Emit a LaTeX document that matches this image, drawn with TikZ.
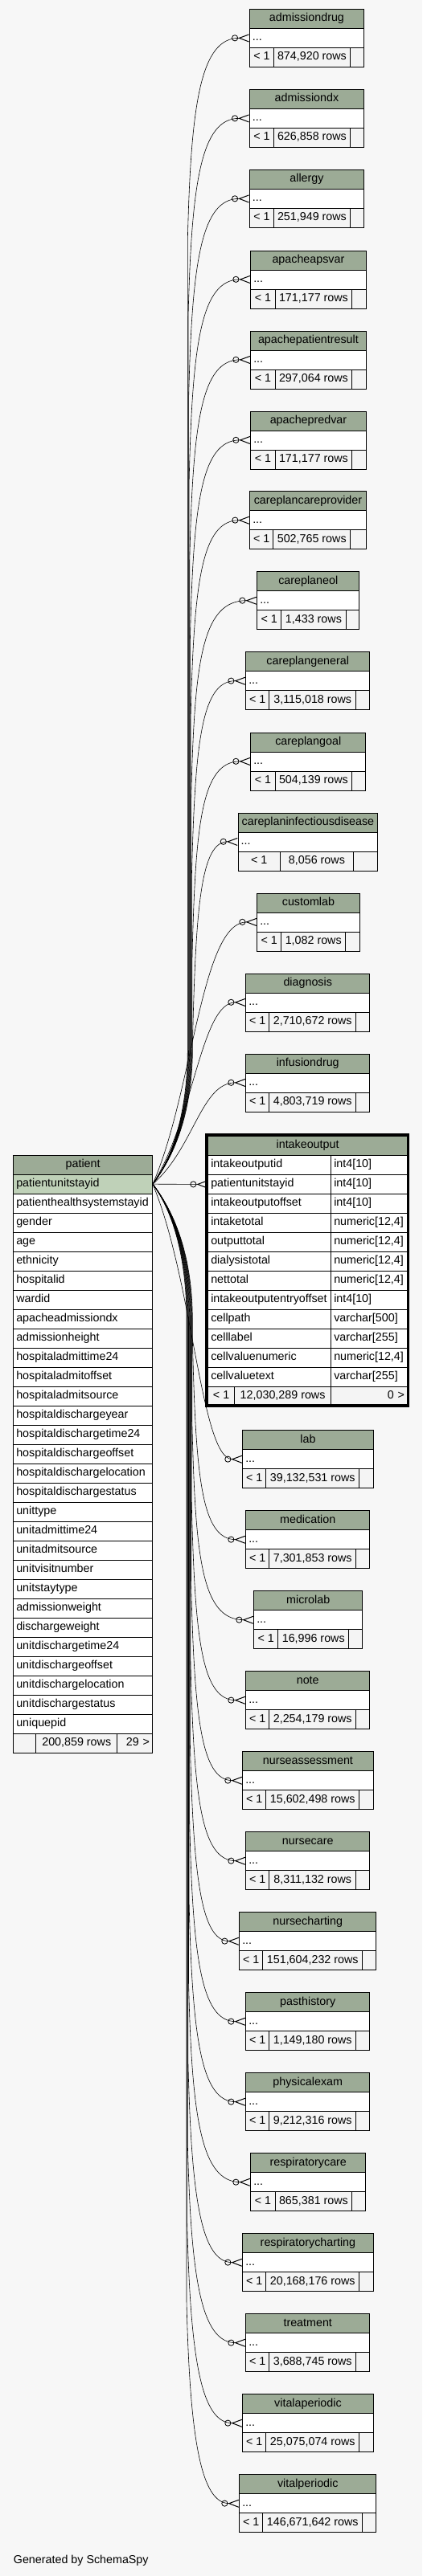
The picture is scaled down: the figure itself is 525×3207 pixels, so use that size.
\documentclass[tikz,border=0pt]{standalone}
\usepackage{fontspec}
\setmainfont{Liberation Sans}
\usetikzlibrary{arrows.meta}

\definecolor{paper}{HTML}{F7F7F7}
\definecolor{hdrgreen}{HTML}{9CAB96}
\definecolor{pkgreen}{HTML}{BFD1B8}
\definecolor{footgray}{HTML}{F4F4F4}

\begin{document}
\begin{tikzpicture}[x=1pt, y=-1pt,
  cell/.style={draw, line width=0.9pt, anchor=north west, inner sep=0pt,
               minimum height=24pt, text height=10pt, text depth=3pt,
               font=\fontsize{14.3}{17}\selectfont},
  hdr/.style={cell, fill=hdrgreen},
  lcell/.style={cell, fill=white, inner xsep=3.5pt, align=left},
  fcell/.style={cell, fill=footgray},
  rcell/.style={cell, fill=footgray, inner xsep=3.5pt, align=right},
  fk/.style={line width=0.6pt,
             -{Circle[open, length=8pt, width=8pt, line width=0.8pt]
               Straight Barb[reversed, length=12pt, width=9pt, line width=1pt]}},
  note/.style={font=\fontsize{14.3}{17}\selectfont, anchor=base west, inner sep=0pt},
]

% === Canvas ===
\fill[paper] (0,0) rectangle (525,3207);
\useasboundingbox (0,0) rectangle (525,3207);

% === Parent table ===
\node[hdr, minimum width=172.7pt] (patient) at (16.3,1437.7) {patient};
\node[lcell, fill=pkgreen, text width=165.7pt] (pk) at (16.3,1461.7) {patientunitstayid};
\foreach \col [count=\k from 2] in {patienthealthsystemstayid, gender, age, ethnicity,
    hospitalid, wardid, apacheadmissiondx, admissionheight, hospitaladmittime24,
    hospitaladmitoffset, hospitaladmitsource, hospitaldischargeyear,
    hospitaldischargetime24, hospitaldischargeoffset, hospitaldischargelocation,
    hospitaldischargestatus, unittype, unitadmittime24, unitadmitsource,
    unitvisitnumber, unitstaytype, admissionweight, dischargeweight,
    unitdischargetime24, unitdischargeoffset, unitdischargelocation,
    unitdischargestatus, uniquepid}{
  \pgfmathsetmacro\yr{1437.7+24*\k}
  \node[lcell, text width=165.7pt] (pt-\col) at (16.3,\yr) {\col};
}
\node[fcell, minimum width=28pt] (pt-f1) at (16.3,2157.7) {};
\node[fcell, minimum width=101pt] (pt-f2) at (44.3,2157.7) {200,859 rows};
\node[rcell, text width=36.7pt] (pt-f3) at (145.3,2157.7) {29 >};

% === Focus table ===
\node[hdr, minimum width=247.7pt] (intakeoutput) at (258.3,1414) {intakeoutput};
\foreach \col/\typ [count=\k] in {intakeoutputid/{int4[10]}, patientunitstayid/{int4[10]},
    intakeoutputoffset/{int4[10]}, intaketotal/{numeric[12,4]},
    outputtotal/{numeric[12,4]}, dialysistotal/{numeric[12,4]},
    nettotal/{numeric[12,4]}, intakeoutputentryoffset/{int4[10]},
    cellpath/{varchar[500]}, celllabel/{varchar[255]},
    cellvaluenumeric/{numeric[12,4]}, cellvaluetext/{varchar[255]}}{
  \pgfmathsetmacro\yr{1414+24*\k}
  \node[lcell, text width=146pt] (io-\col) at (258.3,\yr) {\col};
  \node[lcell, text width=87.7pt] (io-\col-t) at (411.3,\yr) {\typ};
}
\node[fcell, minimum width=32.7pt] (io-f1) at (258.3,1726) {< 1};
\node[fcell, minimum width=120.3pt] (io-f2) at (291,1726) {12,030,289 rows};
\node[rcell, text width=87.7pt] (io-f3) at (411.3,1726) {0 >};
\draw[line width=3.4pt] (256.2,1412.2) rectangle (507.2,1750);

\draw[fk] (pk.east) -- (io-patientunitstayid.west);

% === Child tables and links ===
\foreach \tname/\ty/\xl/\xr/\xa/\xb/\nrows in {
    admissiondrug/11/310/452/340/435/{874,920 rows},
    admissiondx/111/310/452/340/435/{626,858 rows},
    allergy/211/310/452/340/435/{251,949 rows},
    apacheapsvar/311.5/311.3/454.7/341.7/437.3/{171,177 rows},
    apachepatientresult/411.5/311.3/454.7/341.7/437.3/{297,064 rows},
    apachepredvar/511.5/311.3/454.7/341.7/437.3/{171,177 rows},
    careplancareprovider/611.3/310.3/454.7/339.3/435.3/{502,765 rows},
    careplaneol/711.3/319.3/446.3/349.3/429.7/{1,433 rows},
    careplangeneral/811.3/305.3/459.3/334.3/442.3/{3,115,018 rows},
    careplangoal/911.5/311.3/454.3/341.7/437.3/{504,139 rows},
    careplaninfectiousdisease/1011.5/295.7/469.3/347.7/439.3/{8,056 rows},
    customlab/1111.5/319.3/446.7/349.3/429.3/{1,082 rows},
    diagnosis/1211.5/305.3/459.3/334.3/442.3/{2,710,672 rows},
    infusiondrug/1311.5/305.3/459.3/334.3/442.3/{4,803,719 rows},
    lab/1780.3/301.3/463.7/330.3/446.3/{39,132,531 rows},
    medication/1880.3/305.3/459.3/334.3/442.3/{7,301,853 rows},
    microlab/1980.3/315.3/450.3/345.3/433.3/{16,996 rows},
    note/2080.3/305.3/459.3/334.3/442.3/{2,254,179 rows},
    nurseassessment/2180.3/301.3/463.7/330.3/446.3/{15,602,498 rows},
    nursecare/2280.3/305.3/459.3/334.3/442.3/{8,311,132 rows},
    nursecharting/2380.3/297.3/467.3/326.3/450.3/{151,604,232 rows},
    pasthistory/2480.3/305.3/459.3/334.3/442.3/{1,149,180 rows},
    physicalexam/2580.3/305.3/459.3/334.3/442.3/{9,212,316 rows},
    respiratorycare/2680.3/311.3/454.3/341.7/437.3/{865,381 rows},
    respiratorycharting/2780.3/301.3/463.7/330.3/446.3/{20,168,176 rows},
    treatment/2880.3/305.3/459.3/334.3/442.3/{3,688,745 rows},
    vitalaperiodic/2980.3/301.3/463.7/330.3/446.3/{25,075,074 rows},
    vitalperiodic/3080.3/297.3/467.3/326.3/450.3/{146,671,642 rows}}{
  \pgfmathsetmacro\wh{\xr-\xl}
  \pgfmathsetmacro\tw{\xr-\xl-7}
  \pgfmathsetmacro\wa{\xa-\xl}
  \pgfmathsetmacro\wb{\xb-\xa}
  \pgfmathsetmacro\wc{\xr-\xb}
  \pgfmathsetmacro\yd{\ty+24}
  \pgfmathsetmacro\yf{\ty+48}
  \node[hdr, minimum width=\wh pt] (\tname) at (\xl,\ty) {\tname};
  \node[lcell, text width=\tw pt] (\tname-cols) at (\xl,\yd) {...};
  \node[fcell, minimum width=\wa pt] (\tname-f1) at (\xl,\yf) {< 1};
  \node[fcell, minimum width=\wb pt] (\tname-f2) at (\xa,\yf) {\nrows};
  \node[fcell, minimum width=\wc pt] (\tname-f3) at (\xb,\yf) {};
  % link from patient key, bundled near x=235
  \pgfmathsetmacro\yt{\ty+36}
  \pgfmathsetmacro\dd{\yt-1474}
  \pgfmathsetmacro\sg{sign(\dd)}
  \pgfmathsetmacro\xt{242-abs(\dd)/165}
  \pgfmathsetmacro\xu{\xt+4}
  \pgfmathtruncatemacro\far{abs(\dd)>420}
  \ifnum\far=1
    \pgfmathsetmacro\ya{1474+20*\sg}
    \pgfmathsetmacro\yb{1474+70*\sg}
    \pgfmathsetmacro\yc{1474+170*\sg}
    \pgfmathsetmacro\yq{\yt-250*\sg}
    \pgfmathsetmacro\yr{\yt-80*\sg}
    \draw[fk] (pk.east) .. controls (205,\ya) and (\xt,\yb) .. (\xt,\yc)
      -- (\xt,\yq) .. controls (\xu,\yr) and (250,\yt) .. (\tname-cols.west);
  \else
    \pgfmathsetmacro\ym{1474+0.35*\dd}
    \draw[fk] (pk.east) .. controls (\xt,\ym) and (250,\yt) .. (\tname-cols.west);
  \fi
}

% === Footer ===
\node[note] (credit) at (16.7,3191.7) {Generated by SchemaSpy};

\end{tikzpicture}
\end{document}
